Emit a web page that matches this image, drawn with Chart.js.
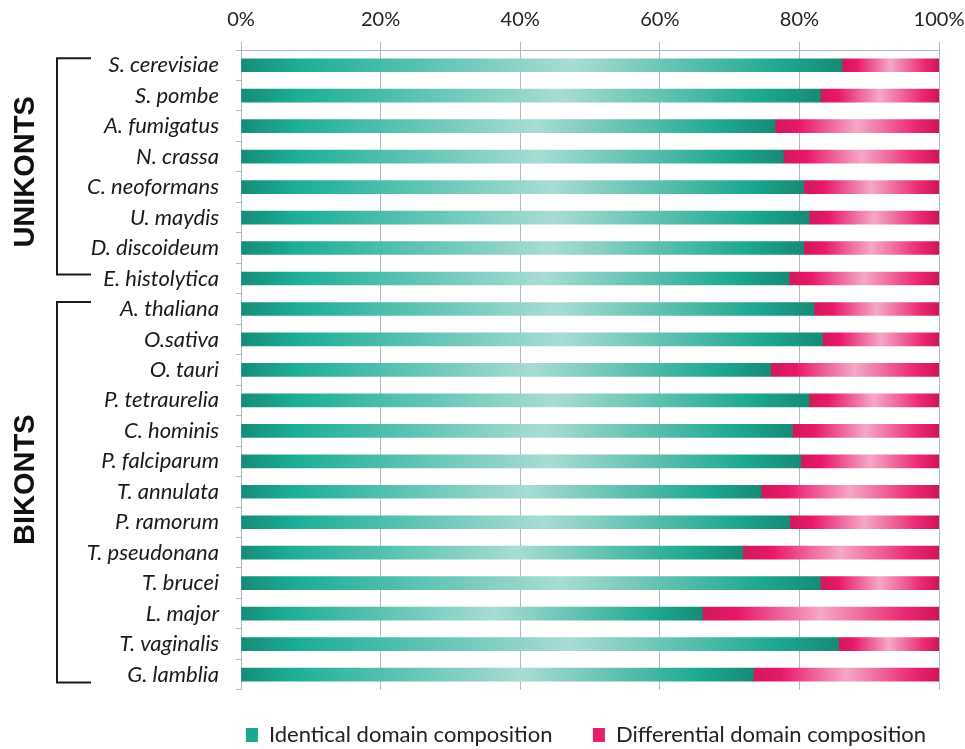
<!DOCTYPE html>
<html>
<head>
<meta charset="utf-8">
<script src="https://cdn.jsdelivr.net/npm/chart.js@4.4.0/dist/chart.umd.min.js"></script>
<style>
  html, body { margin: 0; padding: 0; background: #fff; }
  canvas { display: block; }
</style>
</head>
<body>
<canvas id="chart" width="965" height="749"></canvas>
<script>
// species, top to bottom
const species = [
  "S. cerevisiae", "S. pombe", "A. fumigatus", "N. crassa", "C. neoformans",
  "U. maydis", "D. discoideum", "E. histolytica", "A. thaliana", "O.sativa",
  "O. tauri", "P. tetraurelia", "C. hominis", "P. falciparum", "T. annulata",
  "P. ramorum", "T. pseudonana", "T. brucei", "L. major", "T. vaginalis", "G. lamblia"
];
// percent of proteins
const identical = [86.1, 83.0, 76.5, 77.7, 80.6, 81.4, 80.6, 78.5, 82.1, 83.3, 75.9,
  81.4, 79.0, 80.2, 74.5, 78.6, 71.9, 83.0, 66.1, 85.6, 73.4];
const differential = [13.9, 17.0, 23.5, 22.3, 19.4, 18.6, 19.4, 21.5, 17.9, 16.7, 24.1,
  18.6, 21.0, 19.8, 25.5, 21.4, 28.1, 17.0, 33.9, 14.4, 26.6];
const seriesNames = ["Identical domain composition", "Differential domain composition"];
// brackets on the left (category indexes)
const groups = [
  { name: "UNIKONTS", first: 0, last: 7 },
  { name: "BIKONTS", first: 8, last: 20 }
];

const tealStops = [[0, "#168c78"], [0.1, "#1cae96"], [0.55, "#a8dcd4"], [0.9, "#1ca88f"], [1, "#178a76"]];
const pinkStops = [[0, "#cf1a5b"], [0.15, "#e8186a"], [0.5, "#f4a8c7"], [0.85, "#ea2a74"], [1, "#cf1459"]];
const legendColors = ["#1aa890", "#e61f6b"];
const gridColor = "#a9bcc6";

/*
  @desc: horizontal gradient spanning one bar segment
*/
var segmentGradient = function (context, stops, fallback) {
  const chart = context.chart;
  if (!chart.chartArea) return fallback;
  const x = chart.scales.x;
  const i = context.dataIndex;
  let from, to;
  if (context.datasetIndex === 0) {
    from = x.getPixelForValue(0);
    to = x.getPixelForValue(identical[i]);
  } else {
    from = x.getPixelForValue(identical[i]);
    to = x.getPixelForValue(identical[i] + differential[i]);
  }
  const g = chart.ctx.createLinearGradient(from, 0, to, 0);
  stops.forEach(s => g.addColorStop(s[0], s[1]));
  return g;
};

/*
  @desc: draws the UNIKONTS / BIKONTS brackets
*/
const labelShift = [0, -12];
const groupBrackets = {
  id: "groupBrackets",
  afterDraw(chart) {
    const { ctx } = chart;
    const y = chart.scales.y;
    ctx.save();
    ctx.strokeStyle = "#1a1a1a";
    ctx.lineWidth = 2;
    groups.forEach((g, n) => {
      const top = y.getPixelForValue(g.first) - 7;
      const bottom = y.getPixelForValue(g.last) + (n === groups.length - 1 ? 8 : -4);
      ctx.beginPath();
      ctx.moveTo(91, top);
      ctx.lineTo(57, top);
      ctx.lineTo(57, bottom);
      ctx.lineTo(91, bottom);
      ctx.stroke();

      const mid = (y.getPixelForValue(g.first) + y.getPixelForValue(g.last)) / 2 + labelShift[n];
      ctx.save();
      ctx.translate(26, mid);
      ctx.rotate(-Math.PI / 2);
      ctx.fillStyle = "#111";
      ctx.font = "bold 29px 'Liberation Sans', Arial, sans-serif";
      ctx.textAlign = "center";
      ctx.textBaseline = "middle";
      ctx.fillText(g.name, 0, 0);
      ctx.restore();
    });
    ctx.restore();
  }
};

const chart = new Chart(document.getElementById("chart"), {
  type: "bar",
  data: {
    labels: species,
    datasets: [
      {
        label: seriesNames[0],
        data: identical,
        backgroundColor: ctx => segmentGradient(ctx, tealStops, legendColors[0]),
        barThickness: 13,
      },
      {
        label: seriesNames[1],
        data: differential,
        backgroundColor: ctx => segmentGradient(ctx, pinkStops, legendColors[1]),
        barThickness: 13,
      },
    ],
  },
  options: {
    indexAxis: "y",
    responsive: false,
    animation: false,
    devicePixelRatio: 1,
    layout: { padding: { left: 0, right: 26, top: 0, bottom: -7 } },
    scales: {
      x: {
        position: "top",
        stacked: true,
        min: 0,
        max: 100,
        ticks: {
          stepSize: 20,
          padding: 10,
          color: "#222",
          font: { family: "Lato", size: 20 },
          callback: v => v + "%",
        },
        grid: { color: gridColor, tickLength: 8 },
        border: { color: gridColor },
        // labels may overhang the plot edges, like the original
        afterFit: s => { s.height = 50; s.paddingLeft = 0; s.paddingRight = 0; },
      },
      y: {
        stacked: true,
        ticks: {
          padding: 17,
          color: "#1a1a1a",
          font: { family: "Lato", style: "italic", size: 22 },
        },
        grid: { color: gridColor, drawOnChartArea: false, tickLength: 5, offset: true },
        border: { display: false },
        afterFit: s => { s.width = 241; },
      },
    },
    plugins: {
      tooltip: { enabled: false },
      legend: {
        position: "bottom",
        align: "end",
        title: { display: true, text: "", padding: { top: 20, bottom: 0 }, font: { size: 1 } },
        labels: {
          boxWidth: 12,
          boxHeight: 14,
          padding: 13,
          color: "#222",
          font: { family: "Lato", size: 22 },
          generateLabels: c => c.data.datasets.map((ds, i) => ({
            text: i === 0 ? ds.label + "\u2003\u2002" : ds.label,
            fillStyle: legendColors[i],
            strokeStyle: legendColors[i],
            lineWidth: 0,
            hidden: false,
            datasetIndex: i,
            fontColor: "#222",
          })),
        },
      },
    },
  },
  plugins: [groupBrackets],
});
</script>
</body>
</html>
